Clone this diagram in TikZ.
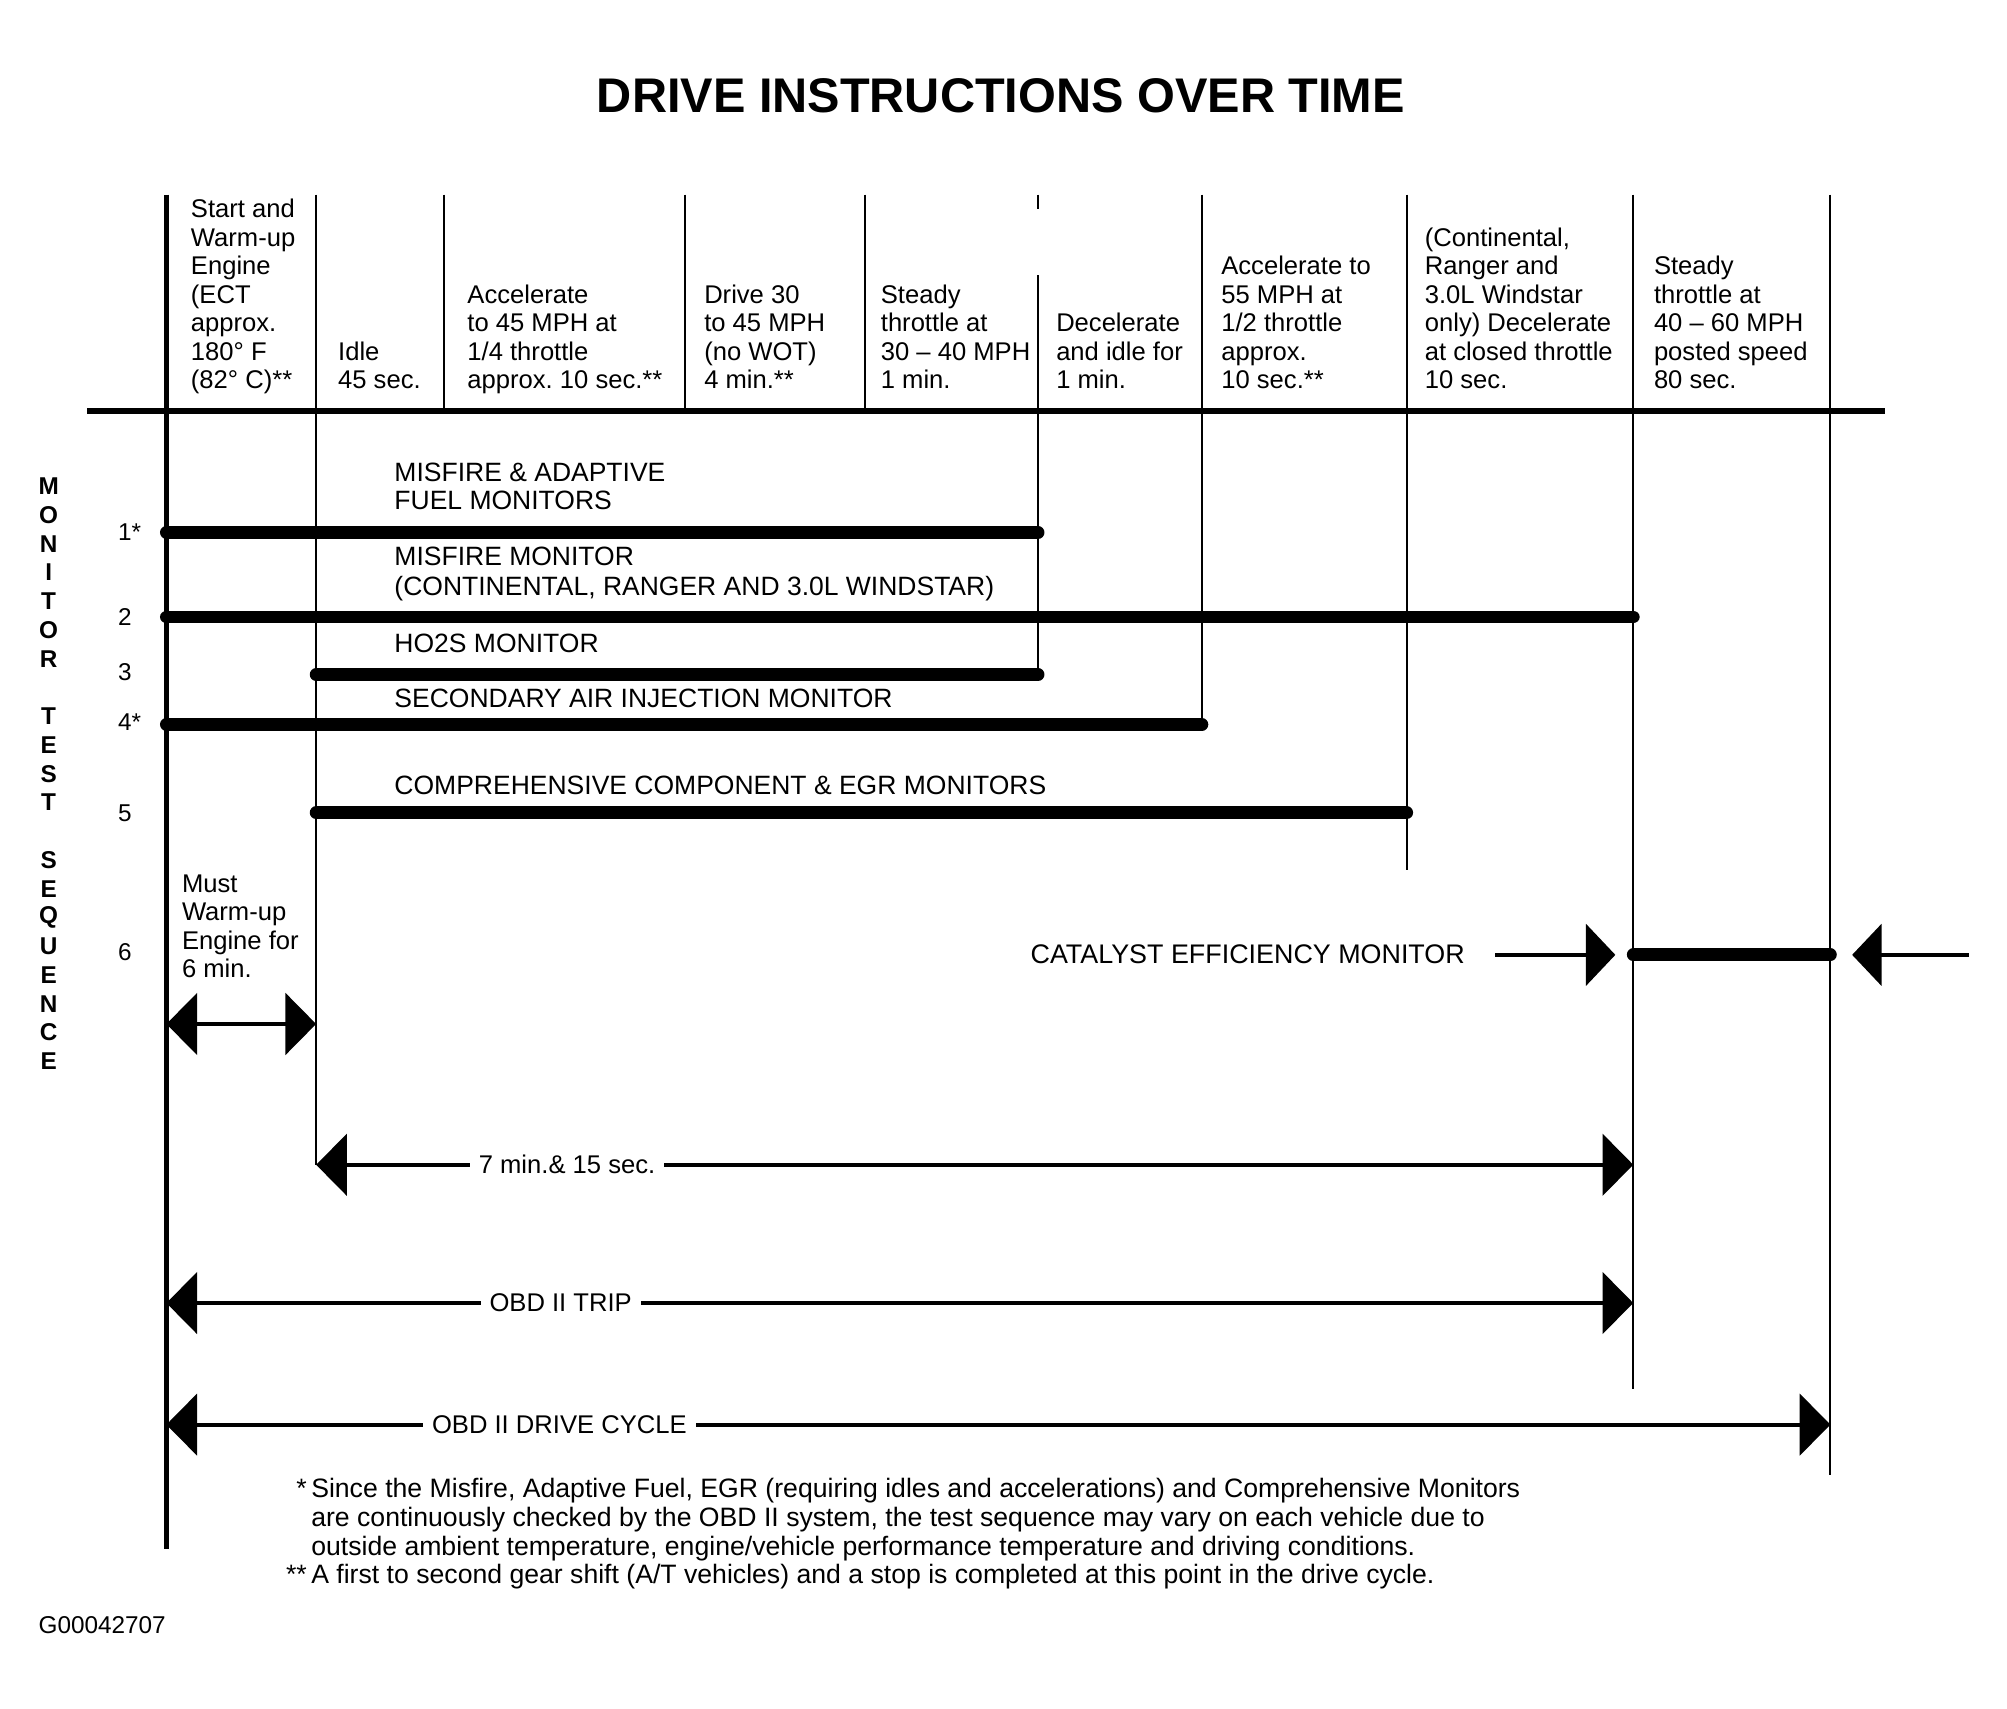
\documentclass[tikz,border=0pt]{standalone}
\usepackage{fontspec}
\setmainfont{Liberation Sans}
\usetikzlibrary{arrows.meta}
\frenchspacing

\begin{document}
\begin{tikzpicture}[x=1pt,y=-1pt,
  every node/.style={inner sep=0pt,font=\fontsize{20}{22.3}\selectfont},
  phase/.style={anchor=south west,align=left,text depth=0pt},
  colline/.style={line width=1.4pt},
  monitor/.style={line width=10pt,line cap=round},
  montext/.style={anchor=base west,font=\fontsize{20.7}{23}\selectfont},
  note/.style={anchor=base west,font=\fontsize{20.8}{22.5}\selectfont},
  interval/.style={{Triangle[length=24pt,width=48pt]}-{Triangle[length=24pt,width=48pt]},line width=3pt},
  pointer/.style={-{Triangle[length=23pt,width=48pt]},line width=3pt},
  intlabel/.style={fill=white,inner xsep=7pt,inner ysep=3pt}]
  \useasboundingbox (0,0) rectangle (1568,1335);

  \node[font=\bfseries\fontsize{38}{40}\selectfont] (title) at (782,75) {DRIVE INSTRUCTIONS OVER TIME};

  % columns of the drive cycle
  \foreach \n/\x in {0/130,1/247,2/347,3/535,4/676,5/811,6/939,7/1099,8/1276,9/1430}
    \coordinate (c\n) at (\x,152);
  \coordinate (hl) at (68,321);
  \coordinate (hr) at (1473,321);
  \draw[line width=5pt] (hl) -- (hr);
  \draw[line width=4pt] (c0) -- (c0 |- 0,1210);
  \foreach \n in {2,3,4}
    \draw[colline] (c\n) -- (c\n |- hl);
  \draw[colline] (c1) -- (c1 |- 0,910);
  \draw[colline] (c5) -- ++(0,11);
  \draw[colline] (c5 |- 0,215) -- (c5 |- 0,527);
  \draw[colline] (c6) -- (c6 |- 0,566);
  \draw[colline] (c7) -- (c7 |- 0,680);
  \draw[colline] (c8) -- (c8 |- 0,1085);
  \draw[colline] (c9) -- (c9 |- 0,1152);

  % drive instructions
  \node[phase] (start) at (149,304) {Start and\\Warm-up\\Engine\\(ECT\\approx.\\180° F\\(82° C)**};
  \node[phase] (idle) at (264,304) {Idle\\45 sec.};
  \node[phase] (acc45) at (365,304) {Accelerate\\to 45 MPH at\\1/4 throttle\\approx. 10 sec.**};
  \node[phase] (drive) at (550,304) {Drive 30\\to 45 MPH\\(no WOT)\\4 min.**};
  \node[phase] (steady1) at (688,304) {Steady\\throttle at\\30 – 40 MPH\\1 min.};
  \node[phase] (decel) at (825,304) {Decelerate\\and idle for\\1 min.};
  \node[phase] (acc55) at (954,304) {Accelerate to\\55 MPH at\\1/2 throttle\\approx.\\10 sec.**};
  \node[phase] (closed) at (1113,304) {(Continental,\\Ranger and\\3.0L Windstar\\only) Decelerate\\at closed throttle\\10 sec.};
  \node[phase] (steady2) at (1292,304) {Steady\\throttle at\\40 – 60 MPH\\posted speed\\80 sec.};

  % monitor test sequence
  \foreach \ch/\k in {M/0,O/1,N/2,I/3,T/4,O/5,R/6,T/8,E/9,S/10,T/11,S/13,E/14,Q/15,U/16,E/17,N/18,C/19,E/20}
    \node[font=\bfseries\fontsize{19}{20}\selectfont] (seq\k) at (38,380+\k*22.45) {\ch};
  \foreach \r/\t/\y in {1/1*/416,2/2/482,3/3/525,4/4*/564,5/5/635,6/6/744}
    \node[anchor=west,font=\fontsize{19}{20}\selectfont] (row\r) at (92,\y) {\t};

  \node[montext] (m1a) at (308,376) {MISFIRE \& ADAPTIVE};
  \node[montext] (m1b) at (308,398) {FUEL MONITORS};
  \draw[monitor] (c0 |- 0,416) -- (c5 |- 0,416);
  \node[montext] (m2a) at (308,442) {MISFIRE MONITOR};
  \node[montext] (m2b) at (308,465) {(CONTINENTAL, RANGER AND 3.0L WINDSTAR)};
  \draw[monitor] (c0 |- 0,482) -- (c8 |- 0,482);
  \node[montext] (m3) at (308,510) {HO2S MONITOR};
  \draw[monitor] (c1 |- 0,527) -- (c5 |- 0,527);
  \node[montext] (m4) at (308,553) {SECONDARY AIR INJECTION MONITOR};
  \draw[monitor] (c0 |- 0,566) -- (c6 |- 0,566);
  \node[montext] (m5) at (308,621) {COMPREHENSIVE COMPONENT \& EGR MONITORS};
  \draw[monitor] (c1 |- 0,635) -- (c7 |- 0,635);
  \node[montext,font=\fontsize{21}{23}\selectfont] (m6) at (805,753) {CATALYST EFFICIENCY MONITOR};
  \draw[monitor] (c8 |- 0,746) -- (c9 |- 0,746);
  \coordinate (catin) at (1168,746);
  \coordinate (catout) at (1538,746);
  \draw[pointer] (catin) -- (1262,746);
  \draw[pointer] (catout) -- (1447,746);

  % time spans
  \node[phase] (warm) at (142,764) {Must\\Warm-up\\Engine for\\6 min.};
  \draw[interval] (c0 |- 0,800) -- (c1 |- 0,800);
  \draw[interval] (c1 |- 0,910) -- (c8 |- 0,910);
  \node[intlabel] (trip7) at (443,910) {7 min.\& 15 sec.};
  \draw[interval] (c0 |- 0,1018) -- (c8 |- 0,1018);
  \node[intlabel] (trip) at (438,1018) {OBD II TRIP};
  \draw[interval] (c0 |- 0,1113) -- (c9 |- 0,1113);
  \node[intlabel] (cycle) at (437,1113) {OBD II DRIVE CYCLE};

  % notes
  \node[note] (note1) at (243,1170) {\llap{*\,}Since the Misfire, Adaptive Fuel, EGR (requiring idles and accelerations) and Comprehensive Monitors};
  \node[note] (note2) at (243,1192.5) {are continuously checked by the OBD II system, the test sequence may vary on each vehicle due to};
  \node[note] (note3) at (243,1215) {outside ambient temperature, engine/vehicle performance temperature and driving conditions.};
  \node[note] (note4) at (243,1237.5) {\llap{**\,}A first to second gear shift (A/T vehicles) and a stop is completed at this point in the drive cycle.};
  \node[anchor=west,font=\fontsize{19}{20}\selectfont] (figno) at (30,1270) {G00042707};
\end{tikzpicture}
\end{document}
